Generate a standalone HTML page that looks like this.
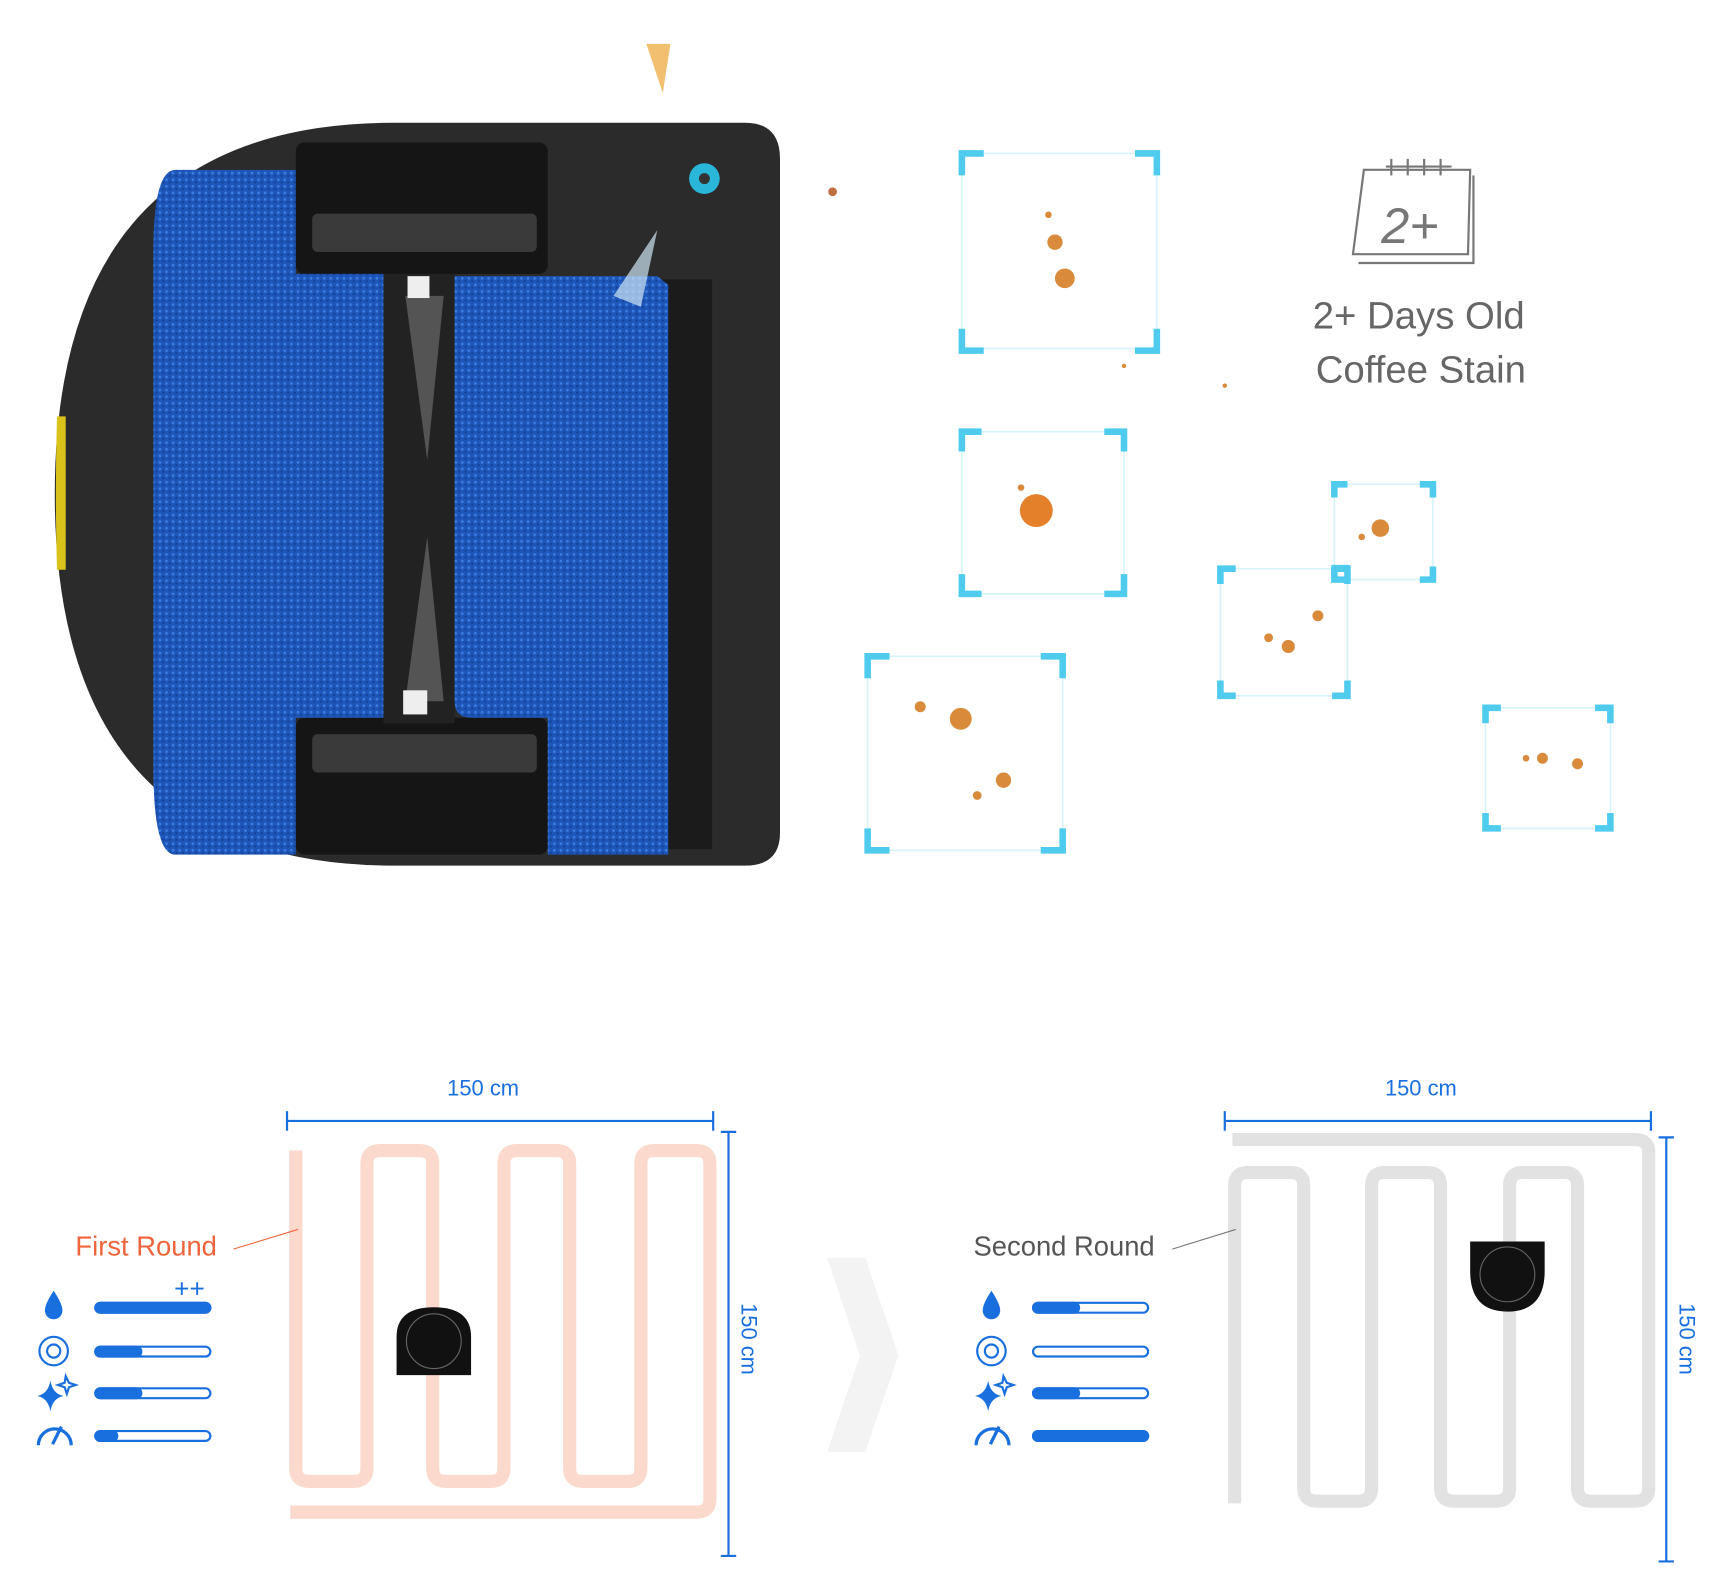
<!DOCTYPE html>
<html><head><meta charset="utf-8"><style>
html,body{margin:0;padding:0;background:#fff;width:1709px;height:1568px;overflow:hidden}
#w{position:absolute;left:0;top:0;width:1560px;height:1431px;transform:scale(1.09551,1.09574);transform-origin:0 0}
svg text{font-family:"Liberation Sans",sans-serif}
</style></head><body><div id="w">
<svg width="1560" height="1431" viewBox="0 0 1560 1431" xmlns="http://www.w3.org/2000/svg">
<defs>
<pattern id="mop" width="6" height="6" patternUnits="userSpaceOnUse">
<rect width="6" height="6" fill="#1d56b8"/><circle cx="2" cy="2" r="1.2" fill="#3d7ee0"/><circle cx="5" cy="4.5" r="1" fill="#143f90"/>
</pattern>
</defs>
<path d="M360,112 L680,112 Q712,112 712,145 L712,760 Q712,790 680,790 L360,790 Q50,790 50,451 Q50,112 360,112Z" fill="#2b2b2b"/>
<path d="M52,380 Q50,451 52,520 L60,520 L60,380Z" fill="#d9c21a"/>
<rect x="605" y="255" width="45" height="520" fill="#1b1b1b"/>
<rect x="270" y="130" width="230" height="120" rx="8" fill="#151515"/>
<rect x="285" y="195" width="205" height="35" rx="5" fill="#3a3a3a"/>
<rect x="270" y="655" width="230" height="125" rx="8" fill="#151515"/>
<rect x="285" y="670" width="205" height="35" rx="5" fill="#3a3a3a"/>
<rect x="350" y="250" width="65" height="410" fill="#222"/>
<path d="M370,270 L405,270 L390,420Z M370,640 L405,640 L390,490Z" fill="#777" opacity="0.6"/>
<rect x="372" y="252" width="20" height="20" fill="#eee"/><rect x="368" y="630" width="22" height="22" fill="#eee"/>
<path d="M160,155 L270,155 L270,250 L350,250 L350,655 L270,655 L270,780 L160,780 Q140,780 140,700 L140,230 Q140,155 160,155Z" fill="url(#mop)"/>
<path d="M415,252 L600,252 L610,260 L610,780 L500,780 L500,655 L430,655 Q415,655 415,640Z" fill="url(#mop)"/>
<circle cx="643" cy="163" r="14" fill="#29b6d8"/><circle cx="643" cy="163" r="5" fill="#333"/>
<path d="M600,210 L560,270 L585,280Z" fill="#cfe6f5" opacity="0.7"/>
<path d="M590,40 L612,40 L605,85Z" fill="#f0c070"/>
<circle cx="760" cy="175" r="4" fill="#c07040"/>
<g fill="none" stroke="#d6f3fb" stroke-width="1.5">
<rect x="878" y="140" width="178" height="178"/><rect x="878" y="394" width="148" height="148"/><rect x="792" y="599" width="178" height="177"/><rect x="1114" y="519" width="116" height="116"/><rect x="1218" y="442" width="90" height="87"/><rect x="1356" y="646" width="114" height="110"/>
</g>
<g fill="none" stroke="#4fcbee" stroke-width="6">
<path d="M878,160V140H898M1036,140H1056V160M1056,300V320H1036M898,320H878V300"/>
<path d="M878,412V394H896M1008,394H1026V412M1026,524V542H1008M896,542H878V524"/>
<path d="M792,619V599H812M950,599H970V619M970,756V776H950M812,776H792V756"/>
<path d="M1114,533V519H1128M1216,519H1230V533M1230,621V635H1216M1128,635H1114V621"/>
<path d="M1218,454V442H1230M1296,442H1308V454M1308,517V529H1296M1230,529H1218V517"/>
<path d="M1356,660V646H1370M1456,646H1470V660M1470,742V756H1456M1370,756H1356V742"/>
</g>
<rect x="1217" y="517" width="13" height="13" fill="none" stroke="#4fcbee" stroke-width="3"/>
<g fill="#d98a3a">
<circle cx="963" cy="221" r="7"/><circle cx="972" cy="254" r="9"/><circle cx="957" cy="196" r="3"/>
<circle cx="946" cy="466" r="15" fill="#e5802a"/><circle cx="932" cy="445" r="3"/>
<circle cx="877" cy="656" r="10"/><circle cx="840" cy="645" r="5"/><circle cx="916" cy="712" r="7"/><circle cx="892" cy="726" r="4"/>
<circle cx="1260" cy="482" r="8"/><circle cx="1243" cy="490" r="3"/>
<circle cx="1176" cy="590" r="6"/><circle cx="1158" cy="582" r="4"/><circle cx="1203" cy="562" r="5"/>
<circle cx="1408" cy="692" r="5"/><circle cx="1440" cy="697" r="5"/><circle cx="1393" cy="692" r="3"/>
<circle cx="1026" cy="334" r="2"/><circle cx="1118" cy="352" r="2"/>
</g>
<g fill="none" stroke="#777" stroke-width="2">
<path d="M1245,155 L1342,155 L1340,232 L1235,232Z"/><path d="M1240,240 L1345,240 L1345,160"/>
<path d="M1270,145V160M1285,145V160M1300,145V160M1315,145V160M1265,152H1325"/>
</g>
<text x="1287" y="222" font-size="46" fill="#777" text-anchor="middle" font-style="italic">2+</text>
<text x="1295" y="300" font-size="35" fill="#666" text-anchor="middle">2+ Days Old</text>
<text x="1297" y="349" font-size="35" fill="#666" text-anchor="middle">Coffee Stain</text>
<text x="441" y="1000" font-size="20" fill="#1a6fdf" text-anchor="middle">150 cm</text>
<g stroke="#1a6fdf" stroke-width="2" fill="none">
<path d="M262,1023H651M262,1014V1032M651,1014V1032M665,1033V1420M658,1033H672M658,1420H672"/>
<path d="M1118,1023H1507M1118,1014V1032M1507,1014V1032M1521,1038V1425M1514,1038H1528M1514,1425H1528"/>
</g>
<text transform="translate(677,1222) rotate(90)" font-size="20" fill="#1a6fdf" text-anchor="middle">150 cm</text>
<text transform="translate(1533,1222) rotate(90)" font-size="20" fill="#1a6fdf" text-anchor="middle">150 cm</text>
<text x="1297" y="1000" font-size="20" fill="#1a6fdf" text-anchor="middle">150 cm</text>
<path d="M270,1050V1340Q270,1352 282,1352H323Q335,1352 335,1340V1062Q335,1050 347,1050H383Q395,1050 395,1062V1340Q395,1352 407,1352H448Q460,1352 460,1340V1062Q460,1050 472,1050H508Q520,1050 520,1062V1340Q520,1352 532,1352H573Q585,1352 585,1340V1062Q585,1050 597,1050H636Q648,1050 648,1062V1368Q648,1380 636,1380H265" fill="none" stroke="#fbd9cc" stroke-width="12"/>
<path d="M1125,1040H1493Q1505,1040 1505,1052V1358Q1505,1370 1493,1370H1452Q1440,1370 1440,1358V1082Q1440,1070 1428,1070H1390Q1378,1070 1378,1082V1358Q1378,1370 1366,1370H1327Q1315,1370 1315,1358V1082Q1315,1070 1303,1070H1264Q1252,1070 1252,1082V1358Q1252,1370 1240,1370H1202Q1190,1370 1190,1358V1082Q1190,1070 1178,1070H1139Q1127,1070 1127,1082V1372" fill="none" stroke="#e2e2e2" stroke-width="12"/>
<text x="198" y="1146" font-size="25" fill="#f0643c" text-anchor="end">First Round</text>
<line x1="213" y1="1140" x2="272" y2="1122" stroke="#f0643c" stroke-width="1"/>
<text x="1054" y="1146" font-size="25" fill="#555" text-anchor="end">Second Round</text>
<line x1="1070" y1="1140" x2="1128" y2="1122" stroke="#777" stroke-width="1"/>
<path d="M755,1148H790L820,1237L790,1325H755L785,1237Z" fill="#f3f3f3"/>
<path d="M362,1220Q362,1193 396,1193Q430,1193 430,1220V1255H362Z" fill="#111"/>
<circle cx="396" cy="1224" r="25" fill="none" stroke="#666" stroke-width="1"/>
<path d="M1342,1133H1410V1160Q1410,1197 1376,1197Q1342,1197 1342,1160Z" fill="#111"/>
<circle cx="1376" cy="1163" r="25" fill="none" stroke="#666" stroke-width="1"/>
<g fill="#1a6fdf">
<text x="173" y="1184" font-size="24" text-anchor="middle">++</text>
<path d="M49,1178Q41,1190 41,1196A8,8 0 0 0 57,1196Q57,1190 49,1178Z"/>
<path d="M905,1178Q897,1190 897,1196A8,8 0 0 0 913,1196Q913,1190 905,1178Z"/>
<path d="M46,1260Q48,1272 58,1274Q48,1276 46,1288Q44,1276 34,1274Q44,1272 46,1260Z"/>
<path d="M902,1260Q904,1272 914,1274Q904,1276 902,1288Q900,1276 890,1274Q900,1272 902,1260Z"/>
</g>
<g fill="none" stroke="#1a6fdf" stroke-width="2">
<circle cx="49" cy="1233" r="13"/><circle cx="49" cy="1233" r="6"/>
<circle cx="905" cy="1233" r="13"/><circle cx="905" cy="1233" r="6"/>
<path d="M60,1256L63,1262L69,1264L63,1266L61,1272L59,1266L53,1264L59,1262Z"/>
<path d="M916,1256L919,1262L925,1264L919,1266L917,1272L915,1266L909,1264L915,1262Z"/>
<path d="M35,1319A15,15 0 0 1 65,1319M48,1318L56,1302" stroke-width="3"/>
<path d="M891,1319A15,15 0 0 1 921,1319M904,1318L912,1302" stroke-width="3"/>
<rect x="87" y="1189" width="105" height="9" rx="4.5"/><rect x="87" y="1229" width="105" height="9" rx="4.5"/>
<rect x="87" y="1267" width="105" height="9" rx="4.5"/><rect x="87" y="1306" width="105" height="9" rx="4.5"/>
<rect x="943" y="1189" width="105" height="9" rx="4.5"/><rect x="943" y="1229" width="105" height="9" rx="4.5"/>
<rect x="943" y="1267" width="105" height="9" rx="4.5"/><rect x="943" y="1306" width="105" height="9" rx="4.5"/>
</g>
<g fill="#1a6fdf">
<rect x="86" y="1188" width="107" height="11" rx="5.5"/><rect x="86" y="1228" width="44" height="11" rx="5.5"/>
<rect x="86" y="1266" width="44" height="11" rx="5.5"/><rect x="86" y="1305" width="22" height="11" rx="5.5"/>
<rect x="942" y="1188" width="44" height="11" rx="5.5"/>
<rect x="942" y="1266" width="44" height="11" rx="5.5"/><rect x="942" y="1305" width="107" height="11" rx="5.5"/>
</g>
</svg></div></body></html>
